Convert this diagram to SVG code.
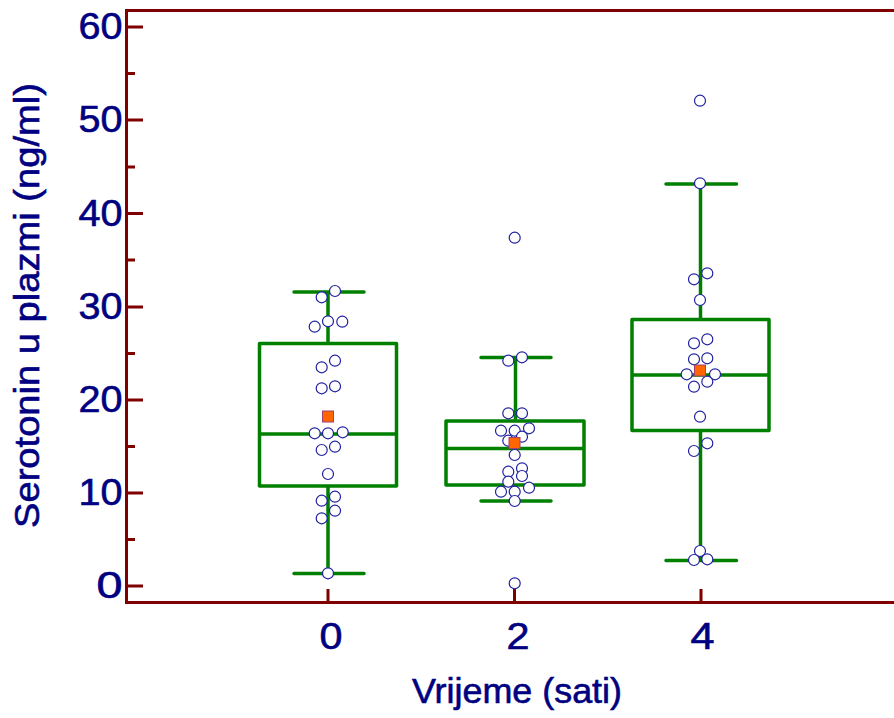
<svg xmlns="http://www.w3.org/2000/svg" width="894" height="718" viewBox="0 0 894 718">
<style>
.ax{stroke:#800000;stroke-width:3;fill:none;stroke-linecap:butt}
.bx{stroke:#008000;stroke-width:3.5;fill:none;stroke-linejoin:round;stroke-linecap:round}
.pt{fill:#fff;stroke:#2020a0;stroke-width:1.2}
.mn{fill:#ff6600;stroke:#a04070;stroke-width:1}
.lbl{font-family:"Liberation Sans",Arial,sans-serif;fill:#000080;stroke:#000080;stroke-width:0.6}
.yt{font-size:36px;text-anchor:end}
.xt{font-size:37px;text-anchor:middle}
</style>
<rect width="894" height="718" fill="#fff"/>
<g id="axes">
<path class="ax" d="M894,10.5H126.5V602.5H894"/>
<path class="ax" d="M126,27H143M126,120H143M126,213.5H143M126,307H143M126,400H143M126,493H143M126,586H143"/>
<path class="ax" d="M126,73.5H135M126,167H135M126,260H135M126,353.5H135M126,446.5H135M126,539.5H135"/>
<path class="ax" d="M328,602V589M514.5,602V589M701,602V589"/>
</g>
<g id="ytick-labels" class="lbl yt">
<text x="122.5" y="39" textLength="44" lengthAdjust="spacingAndGlyphs">60</text>
<text x="122.5" y="132" textLength="44" lengthAdjust="spacingAndGlyphs">50</text>
<text x="122.5" y="225.5" textLength="44" lengthAdjust="spacingAndGlyphs">40</text>
<text x="122.5" y="319" textLength="44" lengthAdjust="spacingAndGlyphs">30</text>
<text x="122.5" y="412" textLength="44" lengthAdjust="spacingAndGlyphs">20</text>
<text x="122.5" y="505" textLength="44" lengthAdjust="spacingAndGlyphs">10</text>
<text x="122.5" y="598" textLength="26" lengthAdjust="spacingAndGlyphs">0</text>
</g>
<g id="xtick-labels" class="lbl xt">
<text x="331" y="649" textLength="23" lengthAdjust="spacingAndGlyphs">0</text>
<text x="518" y="649" textLength="23" lengthAdjust="spacingAndGlyphs">2</text>
<text x="702.5" y="649" textLength="24" lengthAdjust="spacingAndGlyphs">4</text>
</g>
<text id="x-title" class="lbl" x="412" y="703" font-size="35" textLength="210" lengthAdjust="spacingAndGlyphs">Vrijeme (sati)</text>
<text id="y-title" class="lbl" transform="translate(39,528) rotate(-90)" font-size="35" textLength="445" lengthAdjust="spacingAndGlyphs">Serotonin u plazmi (ng/ml)</text>
<g id="box-0">
<path class="bx" d="M294,292H364M328,292V343.5M259.5,343.5H396.5V486H259.5ZM259.5,434H396.5M328,486V573.5M294,573.5H364"/>
<g>
<circle class="pt" cx="335" cy="291" r="5.5"/><circle class="pt" cx="321.7" cy="297.3" r="5.5"/><circle class="pt" cx="314.7" cy="326.7" r="5.5"/><circle class="pt" cx="328" cy="321.3" r="5.5"/><circle class="pt" cx="342.3" cy="321.7" r="5.5"/><circle class="pt" cx="335" cy="360.7" r="5.5"/><circle class="pt" cx="321.7" cy="367.3" r="5.5"/><circle class="pt" cx="335" cy="386.3" r="5.5"/><circle class="pt" cx="321.7" cy="388.3" r="5.5"/><circle class="pt" cx="314.7" cy="433.3" r="5.5"/><circle class="pt" cx="328" cy="433.3" r="5.5"/><circle class="pt" cx="342.7" cy="432.3" r="5.5"/><circle class="pt" cx="335" cy="446.7" r="5.5"/><circle class="pt" cx="321.7" cy="450" r="5.5"/><circle class="pt" cx="328" cy="474" r="5.5"/><circle class="pt" cx="335" cy="496.7" r="5.5"/><circle class="pt" cx="321.7" cy="500.7" r="5.5"/><circle class="pt" cx="335" cy="510.7" r="5.5"/><circle class="pt" cx="321.7" cy="518.3" r="5.5"/><circle class="pt" cx="328" cy="573.3" r="5.5"/>
</g>
<rect class="mn" x="322.5" y="411" width="11" height="11"/>
</g>
<g id="box-2">
<path class="bx" d="M481,357.5H551M515.5,357.5V421M446,421H584V485H446ZM446,448.5H584M515.5,485V501M481,501H551"/>
<g>
<circle class="pt" cx="514.7" cy="237.7" r="5.5"/><circle class="pt" cx="508.3" cy="360.7" r="5.5"/><circle class="pt" cx="522" cy="357.3" r="5.5"/><circle class="pt" cx="508.3" cy="413.3" r="5.5"/><circle class="pt" cx="522" cy="413.3" r="5.5"/><circle class="pt" cx="501" cy="430.7" r="5.5"/><circle class="pt" cx="514.7" cy="430.7" r="5.5"/><circle class="pt" cx="529" cy="428.3" r="5.5"/><circle class="pt" cx="508.3" cy="440.7" r="5.5"/><circle class="pt" cx="522" cy="436.7" r="5.5"/><circle class="pt" cx="514.7" cy="455" r="5.5"/><circle class="pt" cx="522" cy="468.3" r="5.5"/><circle class="pt" cx="508.3" cy="471.7" r="5.5"/><circle class="pt" cx="522" cy="476" r="5.5"/><circle class="pt" cx="508.3" cy="481.7" r="5.5"/><circle class="pt" cx="501" cy="491.7" r="5.5"/><circle class="pt" cx="514.7" cy="491.7" r="5.5"/><circle class="pt" cx="529" cy="487.7" r="5.5"/><circle class="pt" cx="514.7" cy="501" r="5.5"/><circle class="pt" cx="514.7" cy="583.3" r="5.5"/>
</g>
<rect class="mn" x="509" y="437.5" width="11" height="11"/>
</g>
<g id="box-4">
<path class="bx" d="M666,184H736.5M700.5,184V319.5M632,319.5H769V430.5H632ZM632,375H769M700.5,430.5V560.5M666,560.5H736.5"/>
<g>
<circle class="pt" cx="700" cy="100.7" r="5.5"/><circle class="pt" cx="700" cy="183.3" r="5.5"/><circle class="pt" cx="707.3" cy="273.3" r="5.5"/><circle class="pt" cx="694" cy="279.3" r="5.5"/><circle class="pt" cx="700" cy="300" r="5.5"/><circle class="pt" cx="707.3" cy="339.3" r="5.5"/><circle class="pt" cx="694" cy="343.3" r="5.5"/><circle class="pt" cx="694" cy="359.3" r="5.5"/><circle class="pt" cx="707.3" cy="358.3" r="5.5"/><circle class="pt" cx="686.7" cy="374.3" r="5.5"/><circle class="pt" cx="715" cy="374.3" r="5.5"/><circle class="pt" cx="707.3" cy="381.7" r="5.5"/><circle class="pt" cx="694" cy="386.7" r="5.5"/><circle class="pt" cx="700" cy="416.7" r="5.5"/><circle class="pt" cx="707.3" cy="443.3" r="5.5"/><circle class="pt" cx="694" cy="451" r="5.5"/><circle class="pt" cx="700" cy="551" r="5.5"/><circle class="pt" cx="694" cy="560" r="5.5"/><circle class="pt" cx="707.3" cy="559.3" r="5.5"/>
</g>
<rect class="mn" x="694.5" y="365" width="11" height="11"/>
</g>
</svg>
